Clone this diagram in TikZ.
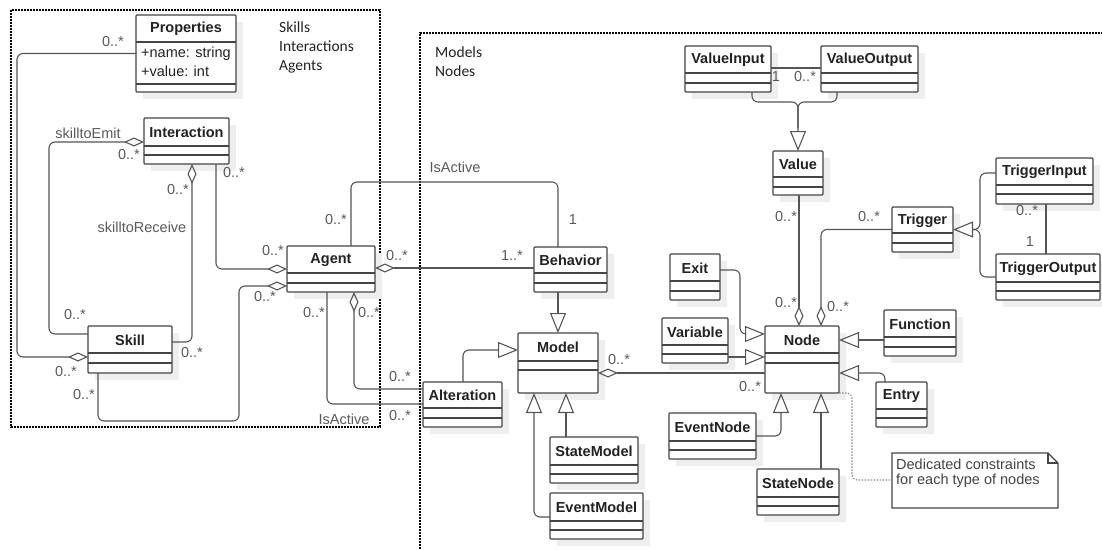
\documentclass[tikz,border=0pt]{standalone}
\usepackage{fontspec}
\setmainfont{Liberation Sans}
\newfontfamily\calib{Carlito}
\usetikzlibrary{arrows.meta}
\definecolor{boxc}{HTML}{444444}
\definecolor{linec}{HTML}{555555}
\definecolor{lblc}{HTML}{5A5A5A}
\definecolor{titc}{HTML}{222222}
\definecolor{shc}{HTML}{EEEEEE}
\definecolor{notel}{HTML}{888888}

\newcommand{\umlcls}[8]{%
  \fill[shadowc] ({#2+7},{#3+7}) rectangle ({#4+7},{#5+7});
  \node[clsbox, anchor=north west, minimum width={(#4-#2)*1pt}, minimum height={(#5-#3)*1pt}] (#1) at (#2,#3) {};
  \draw[clsline] (#2,#6) -- (#4,#6) (#2,#7) -- (#4,#7);
  \node[clstitle] at ({(#2+#4)/2},{(#3+#6)/2+0.5}) {#8};
}

\begin{document}
\begin{tikzpicture}[x=1pt,y=-1pt,
  clsbox/.style={draw=boxc, line width=1.2pt, fill=white, rounded corners=1pt, inner sep=0pt, outer sep=0pt},
  clsline/.style={draw=boxc, line width=1.2pt},
  clstitle/.style={font=\bfseries\fontsize{14.5}{16}\selectfont, text=titc, inner sep=0pt},
  shadowc/.style={fill=shc},
  conn/.style={draw=linec, line width=1.1pt, rounded corners=6pt},
  agg/.style={conn, -{Diamond[open, length=20pt, width=9pt]}},
  gen/.style={conn, -{Triangle[open, length=20pt, width=16pt]}},
  lbl/.style={font=\fontsize{14.5}{16}\selectfont, text=lblc, inner sep=0pt},
  frame/.style={draw=black, line width=1.6pt, dash pattern=on 1.6pt off 1.4pt},
  flabel/.style={font=\calib\fontsize{15.5}{18}\selectfont, text=titc, inner sep=0pt, anchor=base west},
  notecon/.style={draw=notel, line width=1.1pt, dash pattern=on 1.5pt off 1.5pt, rounded corners=5pt}
]
\useasboundingbox (0,0) rectangle (1102,549);

% frames
\draw[frame] (11,10) rectangle (380,427);
\draw[frame] (420,552) -- (420,33) -- (1105,33);
\node[flabel] at (279,32) {Skills};
\node[flabel] at (279,51) {Interactions};
\node[flabel] at (279,70) {Agents};
\node[flabel] at (435,57) {Models};
\node[flabel] at (435,76) {Nodes};

% classes
\umlcls{Properties}{136}{15}{236}{92}{42}{84}{Properties}
\node[lbl, text=titc, anchor=west] (pname) at (141,54) {+name: string};
\node[lbl, text=titc, anchor=west] (pvalue) at (141,71) {+value: int};
\umlcls{Interaction}{144}{118}{229}{164}{146}{155}{Interaction}
\umlcls{Skill}{88}{326}{172}{373}{353}{363}{Skill}
\umlcls{Agent}{287}{246}{375}{292}{273}{283}{Agent}
\umlcls{Behavior}{534}{247}{607}{292}{273}{283}{Behavior}
\umlcls{Model}{518}{333}{598}{393}{361}{370}{Model}
\umlcls{Alteration}{423}{382}{502}{427}{408}{418}{Alteration}
\umlcls{StateModel}{550}{437}{638}{483}{465}{474}{StateModel}
\umlcls{EventModel}{550}{493}{643}{539}{521}{530}{EventModel}
\umlcls{ValueInput}{685}{46}{771}{92}{73}{83}{ValueInput}
\umlcls{ValueOutput}{821}{46}{918}{92}{73}{83}{ValueOutput}
\umlcls{Value}{773}{151}{823}{195}{177}{187}{Value}
\umlcls{Trigger}{892}{207}{953}{252}{233}{243}{Trigger}
\umlcls{TriggerInput}{996}{158}{1093}{204}{185}{194}{TriggerInput}
\umlcls{TriggerOutput}{996}{254}{1100}{300}{282}{291}{TriggerOutput}
\umlcls{Exit}{670}{254}{720}{300}{281}{291}{Exit}
\umlcls{Variable}{662}{318}{728}{363}{345}{354}{Variable}
\umlcls{Node}{765}{326}{839}{393}{353}{363}{Node}
\umlcls{Function}{884}{310}{956}{356}{337}{347}{Function}
\umlcls{Entry}{876}{382}{927}{427}{409}{418}{Entry}
\umlcls{EventNode}{669}{413}{756}{459}{441}{450}{EventNode}
\umlcls{StateNode}{757}{469}{839}{515}{497}{506}{StateNode}

% note
\node[inner sep=0pt, minimum width=166pt, minimum height=55pt, anchor=north west] (note) at (892,453) {};
\draw[clsline, line width=1.1pt, fill=white] (892,453) -- (1048,453) -- (1058,463) -- (1058,508) -- (892,508) -- cycle;
\draw[clsline, line width=1.1pt] (1048,453) -- (1048,463) -- (1058,463);
\node[lbl, text=boxc, anchor=north west, align=left, font=\fontsize{14.5}{15}\selectfont] (notetext) at (896,459) {Dedicated constraints\\for each type of nodes};

% connectors: left group
\draw[agg] (Properties.west) -| (17,357) -- (Skill.west |- 0,357);
\draw[agg] (Skill.west |- 0,334) -| (49,142) -- (Interaction.west |- 0,142);
\draw[agg] (Skill.east |- 0,342) -| (Interaction.south -| 192,0);
\draw[agg] (Interaction.south -| 216,0) |- (Agent.west |- 0,269);
\draw[agg] (Skill.south -| 98,0) -- (98,421) -| (239,286) -- (Agent.west |- 0,286);
\draw[conn] (Agent.north -| 351,0) |- (558,182) -- (Behavior.north -| 558,0);
\draw[agg] (Behavior.west |- 0,268) -- (Agent.east |- 0,268);
\draw[agg] (Alteration.west |- 0,389) -| (Agent.south -| 354,0);
\draw[conn] (Agent.south -| 327,0) |- (Alteration.west |- 0,404);

% models
\draw[gen] (Behavior.south -| 558,0) -- (Model.north);
\draw[gen] (Alteration.north -| 463,0) |- (Model.west |- 0,350);
\draw[agg] (Node.west |- 0,373) -- (Model.east |- 0,373);
\draw[gen] (StateModel.north -| 566,0) -- (Model.south -| 566,0);
\draw[gen] (EventModel.west |- 0,517) -| (Model.south -| 534,0);

% values
\draw[gen] (ValueInput.south -| 752,0) |- (798,102) -- (Value.north);
\draw[conn] (ValueOutput.south -| 837,0) |- (798,102) -- (798,128);
\draw[conn] (ValueInput.east |- 0,68) -- (ValueOutput.west |- 0,68);
\draw[agg] (Value.south -| 799,0) -- (Node.north -| 799,0);

% triggers
\draw[agg] (Trigger.west) -| (Node.north -| 821,0);
\draw[gen] (TriggerInput.west |- 0,173) -| (980,229.5) -- (Trigger.east);
\draw[conn] (TriggerOutput.west |- 0,277) -| (980,229.5) -- (973,229.5);
\draw[conn] (TriggerInput.south -| 1046,0) -- (TriggerOutput.north -| 1046,0);

% nodes
\draw[gen] (Exit.east |- 0,270) -| (740,334) -- (Node.west |- 0,334);
\draw[gen] (Variable.east |- 0,357) -- (Node.west |- 0,357);
\draw[gen] (Function.west |- 0,340) -- (Node.east |- 0,340);
\draw[gen] (Entry.north -| 885,0) |- (Node.east |- 0,373);
\draw[gen] (EventNode.east |- 0,436) -| (Node.south -| 781,0);
\draw[gen] (StateNode.north -| 821,0) -- (Node.south -| 821,0);
\draw[notecon] (Node.south east) -- (852,393) -- (852,480) -- (note.west |- 0,480);

% labels
\node[lbl] at (113,42) {0..*};
\node[lbl] at (88,133) {skilltoEmit};
\node[lbl] at (129,155) {0..*};
\node[lbl] at (178,190) {0..*};
\node[lbl] at (234,173) {0..*};
\node[lbl] at (142,227) {skilltoReceive};
\node[lbl] at (75,315) {0..*};
\node[lbl] at (66,372) {0..*};
\node[lbl] at (192,353) {0..*};
\node[lbl] at (84,395) {0..*};
\node[lbl] at (273,251) {0..*};
\node[lbl] at (265,297) {0..*};
\node[lbl] at (336,220) {0..*};
\node[lbl] at (455,167) {IsActive};
\node[lbl] at (573,220) {1};
\node[lbl] at (397,256) {0..*};
\node[lbl] at (512,256) {1..*};
\node[lbl] at (314,313) {0..*};
\node[lbl] at (369,313) {0..*};
\node[lbl] at (400,377) {0..*};
\node[lbl] at (344,419) {IsActive};
\node[lbl] at (400,416) {0..*};
\node[lbl] at (619,360) {0..*};
\node[lbl] at (750,387) {0..*};
\node[lbl] at (776,77) {1};
\node[lbl] at (805,77) {0..*};
\node[lbl] at (786,217) {0..*};
\node[lbl] at (786,303) {0..*};
\node[lbl] at (869,217) {0..*};
\node[lbl] at (838,307) {0..*};
\node[lbl] at (1027,211) {0..*};
\node[lbl] at (1030,242) {1};
\end{tikzpicture}
\end{document}
